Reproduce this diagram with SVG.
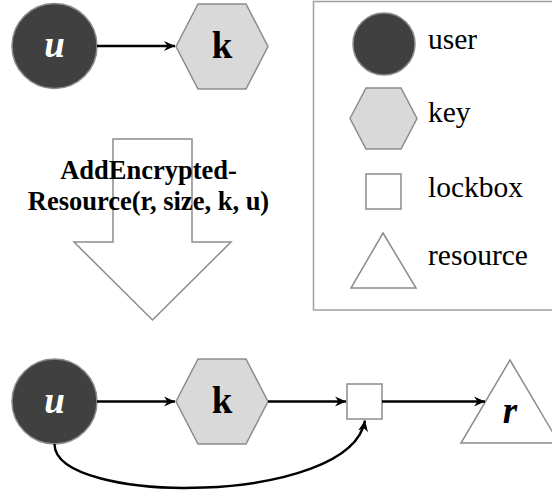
<svg xmlns="http://www.w3.org/2000/svg" width="552" height="496" viewBox="0 0 552 496" font-family="Liberation Serif, serif">
<defs>
<marker id="ah" markerUnits="userSpaceOnUse" markerWidth="12" markerHeight="12" viewBox="0 0 12 12" refX="11" refY="6" orient="auto">
<path d="M0,1 L11,6 L0,11 L3.5,6 Z" fill="#000"/>
</marker>
<circle id="userShape" cx="0" cy="0" r="42.5" fill="#404040" stroke="#8c8c8c" stroke-width="1.5"/>
<polygon id="keyShape" points="-46,0 -24,-42.5 24,-42.5 46,0 24,42.5 -24,42.5" fill="#d9d9d9" stroke="#8c8c8c" stroke-width="1.5"/>
</defs>

<g id="legend">
<rect x="313.5" y="1.5" width="245" height="308.5" fill="#fff" stroke="#a0a0a0" stroke-width="1.5"/>
<circle cx="384" cy="44" r="31" fill="#404040" stroke="#8c8c8c" stroke-width="1.5"/>
<text x="428" y="49" font-family="Liberation Serif, serif" font-size="29.5">user</text>
<polygon points="350,118.5 366,88 401,88 417,118.5 401,149 366,149" fill="#d9d9d9" stroke="#8c8c8c" stroke-width="1.5"/>
<text x="428" y="122" font-family="Liberation Serif, serif" font-size="29.5">key</text>
<rect x="366" y="174" width="35" height="35" fill="#fff" stroke="#8c8c8c" stroke-width="1.5"/>
<text x="428" y="197" font-family="Liberation Serif, serif" font-size="29.5">lockbox</text>
<polygon points="383,233 416,288 351,288" fill="#fff" stroke="#8c8c8c" stroke-width="1.5"/>
<text x="428" y="265" font-family="Liberation Serif, serif" font-size="29.5">resource</text>
</g>

<g id="top-u">
<use href="#userShape" x="54.5" y="46"/>
<text x="54.5" y="57" font-family="Liberation Serif, serif" font-size="37" font-weight="bold" font-style="italic" fill="#fff" text-anchor="middle">u</text>
</g>
<g id="top-k">
<use href="#keyShape" x="222" y="46.5"/>
<text x="222" y="58" font-family="Liberation Serif, serif" font-size="37" font-weight="bold" text-anchor="middle">k</text>
</g>

<g id="operation">
<polygon points="113,139 192,139 192,242 231,242 152.5,320 74,242 113,242" fill="#fff" stroke="#8c8c8c" stroke-width="1.5"/>
<text x="148.5" y="179" font-family="Liberation Serif, serif" font-size="26.5" font-weight="bold" text-anchor="middle">AddEncrypted-</text>
<text x="148.5" y="210" font-family="Liberation Serif, serif" font-size="26.5" font-weight="bold" text-anchor="middle">Resource(r, size, k, u)</text>
</g>

<g id="bot-u">
<use href="#userShape" x="54.5" y="401.5"/>
<text x="54.5" y="413" font-family="Liberation Serif, serif" font-size="37" font-weight="bold" font-style="italic" fill="#fff" text-anchor="middle">u</text>
</g>
<g id="bot-k">
<use href="#keyShape" x="222" y="401.5"/>
<text x="222" y="413" font-family="Liberation Serif, serif" font-size="37" font-weight="bold" text-anchor="middle">k</text>
</g>
<g id="bot-lockbox">
<rect x="347" y="384" width="35" height="35" fill="#fff" stroke="#8c8c8c" stroke-width="1.5"/>
</g>
<g id="bot-r">
<polygon points="510,360 559,443 461,443" fill="#fff" stroke="#8c8c8c" stroke-width="1.5"/>
<text x="510" y="423" font-family="Liberation Serif, serif" font-size="37" font-weight="bold" font-style="italic" text-anchor="middle">r</text>
</g>

<g id="connectors" fill="none" stroke="#000" stroke-width="2.4">
<line x1="97" y1="46" x2="175" y2="46" marker-end="url(#ah)"/>
<line x1="97" y1="401.5" x2="175" y2="401.5" marker-end="url(#ah)"/>
<line x1="268" y1="401.5" x2="346" y2="401.5" marker-end="url(#ah)"/>
<line x1="382" y1="401.5" x2="485" y2="401.5" marker-end="url(#ah)"/>
<path d="M54.5,444 C54.5,506 350,506 365,420.5" marker-end="url(#ah)"/>
</g>
</svg>
